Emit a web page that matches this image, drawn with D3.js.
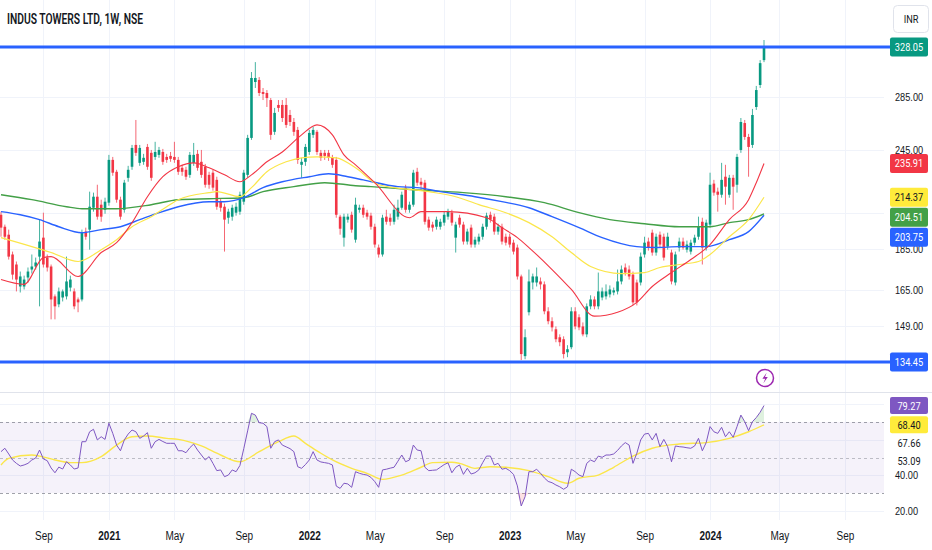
<!DOCTYPE html>
<html>
<head>
<meta charset="utf-8">
<script src="https://cdn.jsdelivr.net/npm/d3@7"></script>
<style>
  body { margin: 0; background: #fff; }
  svg { display: block; font-family: Roboto, "Noto Sans", sans-serif; }
</style>
</head>
<body>
<svg id="chart" width="932" height="550"></svg>
<script>
// weekly bars, first one is the week of 22 Jun 2020
const firstWeek = Date.UTC(2020, 5, 22);

const open = [
  204.0, 197.2, 192.8, 182.3, 177.2, 166.5, 166.5, 170.8, 174.7, 176.2,
  181.2, 191.2, 180.7, 176.2, 161.9, 158.3, 161.4, 161.9, 166.0, 164.2,
  160.5, 160.5, 194.5, 195.6, 208.1, 214.7, 209.9, 206.9, 211.1, 238.3,
  230.4, 212.9, 206.9, 226.5, 233.7, 248.6, 236.3, 237.0, 247.2, 243.1,
  240.3, 241.7, 243.7, 240.3, 241.0, 240.3, 238.3, 233.0, 231.7, 228.4,
  236.3, 242.4, 237.0, 233.7, 228.4, 229.8, 225.2, 211.7, 208.7, 202.3,
  202.9, 205.2, 205.8, 211.7, 228.4, 253.6, 297.1, 298.8, 288.8, 288.0,
  282.3, 258.0, 278.4, 278.4, 278.4, 270.6, 265.3, 259.4, 235.0, 237.0,
  243.7, 255.8, 258.0, 243.1, 243.1, 243.1, 239.7, 238.3, 202.9, 191.2,
  201.2, 204.0, 190.1, 206.9, 208.1, 205.2, 203.5, 197.2, 185.9, 182.3,
  202.9, 202.3, 200.0, 202.9, 208.1, 220.3, 206.9, 209.9, 230.4, 224.0,
  223.4, 201.2, 198.4, 197.2, 197.2, 199.5, 202.9, 205.2, 191.2, 202.3,
  198.4, 189.1, 196.7, 187.5, 189.1, 191.7, 197.2, 204.0, 202.9, 194.5,
  197.2, 191.7, 191.7, 188.5, 185.9, 171.3, 136.7, 154.8, 168.4, 168.4,
  168.9, 167.5, 155.2, 150.9, 147.5, 144.2, 143.4, 138.2, 140.2, 155.2,
  152.6, 148.7, 145.4, 157.4, 160.5, 157.4, 161.4, 161.9, 162.8, 163.7,
  164.2, 168.9, 175.7, 174.7, 172.2, 168.4, 168.4, 182.3, 189.1, 193.9,
  183.3, 192.8, 191.7, 186.4, 183.3, 168.4, 185.9, 189.1, 184.8, 183.8,
  188.5, 191.7, 200.0, 185.9, 198.4, 222.8, 217.8, 215.9, 227.2, 215.9,
  226.5, 222.1, 245.1, 264.5, 254.3, 248.6, 276.8, 294.6, 316.1
];
const high = [
  205.8, 198.4, 195.6, 183.8, 178.7, 173.7, 171.7, 175.7, 182.3, 180.7,
  201.2, 205.2, 182.3, 177.2, 162.8, 166.0, 165.1, 181.2, 171.7, 165.6,
  161.4, 195.6, 196.7, 217.8, 217.2, 222.1, 212.9, 214.1, 241.7, 240.3,
  231.7, 214.7, 225.2, 234.3, 248.6, 266.8, 248.6, 242.4, 249.3, 245.1,
  250.8, 247.2, 245.8, 242.4, 243.7, 250.8, 240.3, 235.0, 233.7, 243.7,
  250.0, 245.1, 245.1, 235.6, 230.4, 231.7, 227.2, 213.5, 210.5, 207.5,
  209.9, 211.1, 217.8, 231.7, 255.8, 305.6, 314.3, 301.3, 292.1, 290.4,
  283.9, 276.1, 282.3, 282.3, 283.9, 274.5, 268.3, 261.6, 239.7, 249.3,
  259.4, 261.6, 259.4, 245.1, 245.1, 245.1, 241.7, 240.3, 204.0, 204.6,
  204.6, 205.8, 214.1, 209.9, 209.9, 206.9, 205.2, 198.9, 187.5, 204.0,
  206.9, 204.6, 209.9, 212.9, 217.8, 222.1, 211.7, 231.7, 233.0, 226.5,
  225.2, 202.9, 200.0, 202.9, 201.7, 205.8, 207.5, 206.9, 200.0, 204.0,
  200.0, 196.1, 198.4, 191.7, 193.4, 198.9, 205.2, 205.8, 204.6, 198.9,
  198.9, 193.4, 193.4, 190.1, 187.5, 172.2, 147.5, 174.7, 172.7, 175.7,
  170.8, 168.9, 157.0, 152.6, 148.7, 145.4, 144.6, 141.0, 157.0, 157.0,
  153.9, 150.4, 158.7, 162.4, 161.9, 173.2, 166.0, 167.5, 167.0, 166.0,
  174.7, 176.7, 177.7, 176.7, 173.7, 169.8, 183.3, 191.7, 191.2, 195.6,
  193.4, 194.5, 193.4, 193.9, 184.8, 183.8, 191.2, 191.2, 189.6, 190.1,
  192.8, 202.9, 202.3, 201.2, 229.8, 225.2, 220.3, 236.3, 235.0, 228.4,
  228.4, 242.4, 268.3, 266.8, 256.5, 275.3, 293.8, 316.1, 334.6
];
const low = [
  191.7, 190.1, 179.7, 169.8, 164.2, 163.7, 165.1, 168.4, 172.7, 174.7,
  157.4, 175.7, 173.7, 151.7, 151.7, 157.0, 159.6, 160.5, 164.2, 156.1,
  154.8, 159.6, 190.1, 184.8, 205.8, 201.2, 200.0, 204.6, 209.3, 227.8,
  211.1, 201.2, 205.2, 224.0, 231.7, 241.0, 234.3, 235.0, 231.7, 224.6,
  238.3, 239.7, 235.0, 236.3, 237.0, 236.3, 228.4, 227.8, 225.2, 226.5,
  234.3, 231.1, 226.5, 220.3, 219.6, 218.4, 206.9, 205.8, 183.8, 198.9,
  200.6, 203.5, 204.0, 209.9, 226.5, 252.2, 292.1, 285.5, 282.3, 276.8,
  252.2, 255.8, 273.0, 265.3, 260.9, 262.3, 255.1, 235.6, 226.5, 234.3,
  241.7, 253.6, 241.7, 237.6, 238.3, 237.6, 233.0, 202.3, 192.8, 186.4,
  199.5, 193.9, 188.5, 205.2, 202.3, 201.2, 195.6, 185.9, 180.7, 181.2,
  198.4, 197.8, 198.4, 201.2, 206.9, 205.2, 205.2, 208.7, 221.5, 219.0,
  198.4, 195.0, 194.5, 195.6, 195.6, 197.8, 201.2, 197.8, 183.3, 196.7,
  187.5, 187.5, 185.9, 185.9, 187.5, 190.1, 195.6, 199.5, 192.8, 192.8,
  187.5, 187.0, 185.9, 182.3, 169.8, 135.2, 135.5, 153.4, 165.1, 166.5,
  165.1, 153.9, 149.6, 146.6, 142.2, 140.6, 135.8, 136.3, 139.4, 147.5,
  147.1, 144.6, 144.2, 156.1, 156.1, 156.1, 160.1, 160.5, 161.4, 162.4,
  162.8, 167.5, 171.7, 169.8, 157.8, 157.8, 167.0, 180.7, 184.3, 181.7,
  181.7, 185.9, 179.2, 184.8, 167.5, 167.0, 183.8, 184.8, 183.3, 182.3,
  187.0, 190.1, 177.2, 184.3, 196.7, 215.3, 205.8, 214.1, 209.9, 214.1,
  206.9, 217.2, 243.1, 252.2, 227.2, 246.5, 274.5, 292.1, 314.3
];
const close = [
  196.7, 191.7, 181.2, 172.2, 169.8, 171.3, 169.8, 173.7, 176.2, 178.2,
  189.1, 177.2, 175.7, 160.5, 157.4, 164.2, 164.2, 168.9, 169.8, 157.4,
  159.2, 193.9, 191.7, 208.7, 214.7, 202.9, 202.9, 211.7, 238.3, 229.8,
  212.9, 202.9, 223.4, 231.7, 246.5, 243.1, 246.5, 239.7, 233.7, 226.5,
  243.7, 245.1, 237.0, 238.3, 239.0, 238.3, 230.4, 230.4, 227.2, 241.7,
  241.7, 233.0, 228.4, 222.1, 222.1, 220.3, 208.7, 208.1, 201.2, 205.8,
  208.1, 208.7, 215.9, 229.8, 253.6, 300.5, 300.5, 288.0, 287.2, 283.9,
  255.8, 272.2, 276.1, 268.3, 263.1, 265.3, 258.0, 238.3, 237.0, 247.2,
  257.2, 259.4, 243.7, 239.7, 241.0, 239.7, 235.0, 204.0, 196.1, 202.9,
  202.9, 195.6, 209.9, 208.1, 204.0, 202.9, 197.2, 187.5, 182.3, 202.3,
  200.0, 200.0, 206.9, 208.1, 215.9, 206.9, 209.9, 229.8, 223.4, 222.1,
  200.0, 196.7, 196.7, 201.2, 200.0, 204.0, 205.8, 199.5, 198.4, 198.4,
  189.1, 194.5, 187.5, 190.1, 191.7, 197.2, 203.5, 201.2, 194.5, 197.2,
  189.1, 188.5, 187.5, 183.8, 171.3, 137.5, 144.2, 168.9, 171.3, 171.3,
  167.5, 155.2, 150.9, 148.3, 143.4, 142.2, 137.5, 139.4, 155.2, 148.7,
  148.3, 145.4, 157.4, 160.5, 157.4, 164.2, 164.2, 164.2, 165.1, 164.7,
  168.9, 174.7, 173.2, 171.3, 159.2, 159.2, 181.2, 188.5, 185.9, 183.3,
  191.7, 187.5, 180.7, 191.7, 168.9, 182.3, 189.1, 185.9, 187.5, 188.5,
  191.2, 197.2, 185.9, 199.5, 222.1, 217.2, 215.9, 225.2, 220.9, 226.5,
  220.9, 240.3, 265.3, 254.3, 247.2, 270.6, 290.4, 313.4, 328.05
];

// moving averages: [week index, value]
const maRed = [[0,169.8],[6,167.5],[11,180.7],[13,181.2],[20,171.3],[26,183.3],[30,188.5],[34,199.5],[38,214.7],[42,227.2],[46,233.7],[50,236.3],[54,233.0],[58,228.4],[62,224.0],[65,228.4],[69,237.0],[73,243.7],[78,255.8],[82,263.1],[86,255.8],[89,241.7],[92,235.0],[97,223.4],[106,202.3],[109,205.8],[116,205.8],[126,202.3],[130,196.7],[134,191.2],[137,185.9],[143,174.7],[148,165.1],[154,153.1],[160,154.8],[165,159.2],[169,166.5],[174,173.2],[179,179.7],[184,187.5],[189,201.2],[194,212.9],[196,223.4],[198,235.91]];
const maYellow = [[0,191.2],[8,186.4],[13,183.3],[20,178.7],[26,184.8],[30,190.1],[34,197.2],[39,202.9],[43,208.7],[46,212.9],[54,217.2],[56,217.8],[62,214.7],[65,220.3],[69,230.4],[74,237.0],[78,239.7],[82,240.3],[87,239.7],[92,233.0],[98,222.1],[111,217.8],[118,214.7],[124,209.9],[131,205.2],[137,199.5],[143,191.7],[148,183.3],[153,176.2],[161,172.7],[167,173.2],[171,175.7],[176,177.2],[181,178.7],[184,182.3],[189,191.7],[194,201.2],[198,214.37]];
const maBlue = [[0,205.8],[5,204.0],[10,201.2],[15,197.2],[21,193.9],[26,195.6],[31,197.2],[36,201.2],[41,205.2],[46,208.7],[54,211.7],[58,211.7],[63,214.1],[68,220.3],[73,224.0],[80,227.2],[85,229.1],[90,227.2],[94,225.2],[103,220.9],[108,220.3],[114,217.8],[123,214.7],[130,211.7],[137,208.1],[143,202.9],[150,196.7],[156,191.2],[165,186.4],[170,185.9],[176,186.4],[183,186.4],[189,190.1],[194,194.5],[198,203.75]];
const maGreen = [[0,215.9],[8,212.9],[17,208.7],[21,207.5],[30,207.5],[39,209.9],[46,212.9],[54,213.5],[63,214.1],[68,217.8],[76,220.9],[84,223.4],[92,221.5],[96,220.9],[107,219.0],[120,217.2],[131,214.7],[141,211.1],[150,205.2],[158,201.2],[167,198.9],[176,197.2],[184,197.2],[189,199.5],[194,201.2],[198,204.51]];

// RSI, one value per week
const rsi = [
  53.3, 55.2, 52.0, 48.6, 46.7, 45.2, 45.8, 46.7, 48.6, 49.7,
  54.2, 49.2, 48.2, 44.1, 41.4, 44.6, 43.5, 47.6, 45.8, 43.5,
  44.1, 58.9, 58.9, 64.5, 65.9, 59.9, 61.7, 60.2, 69.3, 63.6,
  57.0, 53.8, 59.9, 63.2, 65.5, 64.5, 60.8, 62.1, 64.0, 55.2,
  58.9, 60.2, 59.0, 58.0, 58.0, 58.0, 53.8, 53.8, 52.7, 55.5,
  57.6, 54.2, 51.4, 48.6, 50.5, 46.7, 42.6, 43.0, 39.2, 40.1,
  43.0, 42.0, 45.5, 55.0, 65.0, 74.9, 73.9, 69.6, 69.3, 67.4,
  55.2, 58.9, 59.9, 57.0, 56.0, 55.0, 53.3, 44.8, 43.9, 46.0,
  48.6, 53.3, 48.6, 47.5, 47.1, 46.7, 45.8, 33.9, 32.6, 35.5,
  35.1, 33.2, 42.0, 41.1, 40.5, 40.1, 38.8, 36.4, 33.2, 43.0,
  43.4, 44.0, 44.5, 47.9, 51.4, 47.6, 48.6, 57.0, 54.2, 53.8,
  44.5, 42.6, 42.8, 43.0, 44.5, 46.0, 47.0, 41.4, 44.5, 45.8,
  40.5, 43.9, 40.7, 41.4, 43.0, 47.1, 50.8, 50.8, 45.8, 46.7,
  43.4, 43.9, 42.6, 40.5, 34.0, 22.7, 27.9, 42.0, 42.0, 43.4,
  41.1, 38.5, 36.5, 35.8, 34.5, 33.5, 32.1, 33.5, 43.4, 42.0,
  40.1, 39.2, 46.7, 48.6, 47.6, 50.8, 50.1, 51.4, 51.4, 52.0,
  54.0, 56.5, 58.4, 57.0, 46.7, 52.4, 59.9, 63.2, 63.6, 59.9,
  63.6, 56.1, 60.2, 56.1, 47.6, 56.5, 56.1, 55.9, 55.5, 55.2,
  56.5, 60.8, 53.8, 58.4, 67.4, 64.5, 63.6, 67.0, 61.7, 64.5,
  61.4, 67.4, 73.9, 70.2, 65.1, 70.2, 72.5, 75.5, 79.27
];
const rsiMa = [[0,45.8],[2,49.5],[8,51.4],[10,50.8],[14,48.6],[18,47.1],[21,47.1],[26,50.5],[30,57.0],[34,61.7],[38,62.1],[43,60.8],[46,60.2],[52,56.5],[57,51.4],[62,47.6],[67,53.3],[72,58.9],[76,62.1],[79,58.0],[83,52.4],[86,48.6],[91,43.9],[95,41.1],[99,37.7],[104,40.1],[109,44.5],[112,47.1],[117,47.3],[119,46.7],[123,43.9],[127,44.8],[131,44.5],[137,42.6],[142,39.2],[147,35.5],[150,38.3],[155,40.1],[159,44.5],[164,50.8],[169,55.2],[176,57.6],[183,58.4],[189,60.8],[194,64.5],[198,68.40]];
const rsiOtherLabels = [67.66, 53.09];

const levels = [328.05, 134.45];
const priceGrid = [149, 165, 185, 205, 245, 285];
const priceTicks = [149, 165, 185, 245, 285];
const rsiTicks = [20, 40];
const timeTicks = ["2020-09", "2021-01", "2021-05", "2021-09", "2022-01", "2022-05", "2022-09",
                   "2023-01", "2023-05", "2023-09", "2024-01", "2024-05", "2024-09"];

const svg = d3.select("#chart");
const plotRight = 884;
const up = "#089981", down = "#f23645";

const weekDate = i => new Date(firstWeek + i * 7 * 864e5);
const last = open.length - 1;

const x = d3.scaleTime().domain([weekDate(0), weekDate(last)]).range([1, 764]);
const y = d3.scaleLog().domain([134.45, 328.05]).range([362, 47]);
const yr = d3.scaleLinear().domain([30, 70]).range([493, 422]);

// first monday of the month = first weekly bar of that month
const tickDates = timeTicks.map(s => {
  const [yy, mm] = s.split("-").map(Number);
  let d = new Date(Date.UTC(yy, mm - 1, 1));
  while (d.getUTCDay() !== 1) d = new Date(+d + 864e5);
  return d;
});

// grid
const grid = svg.append("g").attr("stroke", "#f0f3fa").attr("stroke-width", 1);
grid.selectAll("line.v").data(tickDates).join("line")
  .attr("class", "v")
  .attr("x1", d => Math.round(x(d)) + 0.5).attr("x2", d => Math.round(x(d)) + 0.5)
  .attr("y1", 0).attr("y2", 520);
grid.selectAll("line.h").data(priceGrid).join("line")
  .attr("class", "h")
  .attr("x1", 0).attr("x2", plotRight)
  .attr("y1", d => Math.round(y(d)) + 0.5).attr("y2", d => Math.round(y(d)) + 0.5);
grid.selectAll("line.r").data([20, 40, 60, 80]).join("line")
  .attr("class", "r")
  .attr("x1", 0).attr("x2", plotRight)
  .attr("y1", d => Math.round(yr(d)) + 0.5).attr("y2", d => Math.round(yr(d)) + 0.5);

// pane separator
svg.append("line")
  .attr("x1", 0).attr("x2", 932).attr("y1", 392.5).attr("y2", 392.5)
  .attr("stroke", "#e0e3eb");

// ---- RSI pane ----
svg.append("rect")
  .attr("x", 0).attr("width", plotRight)
  .attr("y", yr(70)).attr("height", yr(30) - yr(70))
  .attr("fill", "#7e57c2").attr("fill-opacity", 0.08);

svg.selectAll("line.band").data([70, 50, 30]).join("line")
  .attr("class", "band")
  .attr("x1", 0).attr("x2", plotRight)
  .attr("y1", d => Math.round(yr(d)) + 0.5).attr("y2", d => Math.round(yr(d)) + 0.5)
  .attr("stroke", "#787b86").attr("stroke-opacity", d => d === 50 ? 0.45 : 0.7)
  .attr("stroke-dasharray", "3,3");

const rsiIdx = d3.range(rsi.length);
svg.append("path").datum(rsiIdx)
  .attr("fill", "#4caf50").attr("fill-opacity", 0.18)
  .attr("d", d3.area().x(i => x(weekDate(i))).y0(yr(70)).y1(i => yr(Math.max(rsi[i], 70))));
svg.append("path").datum(rsiIdx)
  .attr("fill", "#f23645").attr("fill-opacity", 0.15)
  .attr("d", d3.area().x(i => x(weekDate(i))).y0(yr(30)).y1(i => yr(Math.min(rsi[i], 30))));

svg.append("path").datum(rsiMa)
  .attr("fill", "none").attr("stroke", "#fbe64a").attr("stroke-width", 1.4)
  .attr("d", d3.line().curve(d3.curveMonotoneX).x(d => x(weekDate(d[0]))).y(d => yr(d[1])));
svg.append("path").datum(rsiIdx)
  .attr("fill", "none").attr("stroke", "#7e57c2").attr("stroke-width", 1)
  .attr("d", d3.line().x(i => x(weekDate(i))).y(i => yr(rsi[i])));

// ---- price pane ----
const candles = svg.append("g");
const bars = candles.selectAll("g").data(d3.range(open.length)).join("g");
bars.append("line")
  .attr("x1", i => x(weekDate(i))).attr("x2", i => x(weekDate(i)))
  .attr("y1", i => y(high[i])).attr("y2", i => y(low[i]))
  .attr("stroke", i => close[i] >= open[i] ? up : down)
  .attr("stroke-opacity", 0.75).attr("stroke-width", 1);
bars.append("rect")
  .attr("x", i => x(weekDate(i)) - 1.3).attr("width", 2.6)
  .attr("y", i => y(Math.max(open[i], close[i])))
  .attr("height", i => Math.max(1, Math.abs(y(open[i]) - y(close[i]))))
  .attr("fill", i => close[i] >= open[i] ? up : down);

const maLine = d3.line().curve(d3.curveMonotoneX).x(d => x(weekDate(d[0]))).y(d => y(d[1]));
[[maGreen, "#43a047", 1.4], [maBlue, "#2962ff", 1.4], [maYellow, "#fbe64a", 1.2], [maRed, "#f23645", 1.1]]
  .forEach(([data, color, w]) => {
    svg.append("path").datum(data)
      .attr("fill", "none").attr("stroke", color).attr("stroke-width", w)
      .attr("d", maLine);
  });

svg.selectAll("line.level").data(levels).join("line")
  .attr("class", "level")
  .attr("x1", 0).attr("x2", 890)
  .attr("y1", d => y(d)).attr("y2", d => y(d))
  .attr("stroke", "#2962ff").attr("stroke-width", 3);

// event marker over the last bar
const mark = svg.append("g").attr("transform", `translate(${x(weekDate(last)) + 1},378)`);
mark.append("circle").attr("r", 8.5).attr("fill", "#fff").attr("stroke", "#9c27b0").attr("stroke-width", 1.5);
mark.append("path").attr("d", "M1.6,-5.2 L-2.6,0.8 L0.2,0.8 L-1.6,5.2 L2.8,-1 L0,-1 Z").attr("fill", "#9c27b0");

// ---- axes ----
const axisText = "#131722";

const xAxis = svg.append("g")
  .call(d3.axisBottom(x).tickValues(tickDates).tickSize(0)
    .tickFormat(d => d.getUTCMonth() === 0 ? d3.utcFormat("%Y")(d) : d3.utcFormat("%b")(d)));
xAxis.select(".domain").remove();
xAxis.selectAll("text")
  .attr("class", "sq").attr("y", 539.5).attr("dy", 0)
  .attr("fill", axisText).attr("font-size", 12.5)
  .attr("font-weight", d => d.getUTCMonth() === 0 ? 600 : 400);

const pAxis = svg.append("g").attr("transform", `translate(${plotRight},0)`)
  .call(d3.axisRight(y).tickValues(priceTicks).tickSize(0).tickPadding(11).tickFormat(d3.format(".2f")));
pAxis.select(".domain").remove();
pAxis.selectAll("text").attr("class", "sq").attr("fill", axisText).attr("font-size", 11.5);

const rAxis = svg.append("g").attr("transform", `translate(${plotRight},0)`)
  .call(d3.axisRight(yr).tickValues(rsiTicks).tickSize(0).tickPadding(11).tickFormat(d3.format(".2f")));
rAxis.select(".domain").remove();
rAxis.selectAll("text").attr("class", "sq").attr("fill", axisText).attr("font-size", 11.5);

// last-value tags, pushed down when they collide
function tags(items, scale, h) {
  let bottom = -Infinity;
  items.forEach(t => {
    t.cy = Math.max(scale(t.value), bottom + h / 2 + 1);
    bottom = t.cy + h / 2;
  });
  const g = svg.append("g");
  items.forEach(t => {
    g.append("rect")
      .attr("x", 890).attr("width", 38).attr("y", t.cy - h / 2).attr("height", h).attr("rx", 2)
      .attr("fill", t.bg);
    g.append("text").attr("class", "sq")
      .attr("x", 909).attr("y", t.cy).attr("dy", "0.35em").attr("text-anchor", "middle")
      .attr("font-size", 11.5).attr("fill", t.fg)
      .text(t.value.toFixed(2));
  });
}

tags([
  { value: close[last], bg: up, fg: "#fff" },
  { value: maRed[maRed.length - 1][1], bg: "#f23645", fg: "#fff" },
  { value: maYellow[maYellow.length - 1][1], bg: "#ffeb3b", fg: "#131722" },
  { value: maGreen[maGreen.length - 1][1], bg: "#43a047", fg: "#fff" },
  { value: maBlue[maBlue.length - 1][1], bg: "#2962ff", fg: "#fff" }
], y, 19);
tags([{ value: levels[1], bg: "#2962ff", fg: "#fff" }], y, 19);
tags([
  { value: rsi[last], bg: "#7e57c2", fg: "#fff" },
  { value: rsiMa[rsiMa.length - 1][1], bg: "#ffeb3b", fg: "#131722" },
  { value: rsiOtherLabels[0], bg: "#fff", fg: axisText },
  { value: rsiOtherLabels[1], bg: "#fff", fg: axisText }
], yr, 17);

// currency button
svg.append("rect").attr("x", 893.5).attr("y", 5.5).attr("width", 35).attr("height", 27).attr("rx", 4)
  .attr("fill", "#fff").attr("stroke", "#e0e3eb");
svg.append("text").attr("class", "sq").attr("x", 911).attr("y", 19).attr("dy", "0.35em")
  .attr("text-anchor", "middle").attr("font-size", 11.5).attr("fill", axisText).text("INR");

// title
svg.append("text").attr("x", 7).attr("y", 23.5)
  .attr("font-size", 14).attr("font-weight", 600).attr("fill", "#131722")
  .attr("textLength", 136).attr("lengthAdjust", "spacingAndGlyphs")
  .text("INDUS TOWERS LTD, 1W, NSE");

// the snapshot is squeezed horizontally, so the glyphs are narrow
svg.selectAll("text.sq").each(function () {
  const w = this.getComputedTextLength();
  d3.select(this).attr("textLength", w * 0.8).attr("lengthAdjust", "spacingAndGlyphs");
});
</script>
</body>
</html>
